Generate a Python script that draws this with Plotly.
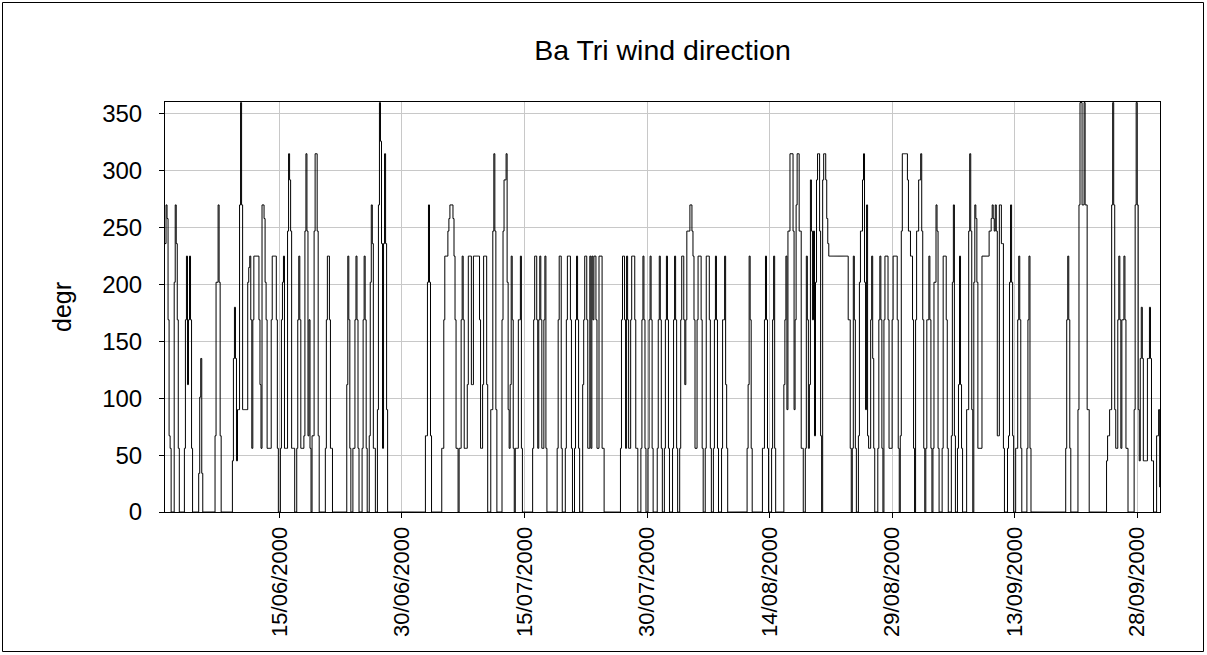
import plotly.graph_objects as go
import pandas as pd

# 3-hourly wind direction (degrees), one row of 8 readings per day
jun_dir = [
    [236, 270, 258, 169, 67, 56, 0, 0],
    [0, 202, 270, 236, 169, 56, 0, 0],
    [0, 0, 0, 56, 169, 225, 112, 169],
    [225, 169, 56, 0, 0, 0, 0, 0],
    [0, 34, 101, 135, 34, 0, 0, 0],
    [0, 0, 0, 0, 0, 0, 0, 0],
    [0, 67, 202, 202, 270, 202, 67, 0],
    [0, 0, 0, 0, 0, 0, 0, 0],
    [0, 0, 45, 135, 180, 135, 45, 90],
    [90, 270, 360, 270, 90, 90, 90, 90],
    [90, 202, 215, 225, 169, 56, 169, 225],
    [225, 225, 225, 225, 169, 112, 56, 270],
    [270, 258, 202, 169, 56, 56, 56, 56],
    [169, 225, 225, 225, 225, 169, 56, 0],
    [0, 56, 169, 202, 225, 56, 56, 56],
    [247, 315, 292, 247, 56, 56, 56, 0],
    [0, 56, 169, 225, 169, 56, 56, 56],
    [67, 247, 315, 247, 67, 169, 56, 0],
    [67, 67, 247, 315, 315, 247, 67, 0],
    [0, 0, 0, 0, 0, 56, 169, 225],
    [225, 169, 56, 56, 0, 0, 0, 0],
    [0, 0, 0, 0, 0, 0, 0, 0],
    [0, 0, 112, 225, 169, 56, 0, 0],
    [56, 56, 169, 225, 169, 56, 0, 0],
    [0, 56, 169, 225, 169, 56, 0, 0],
    [67, 202, 270, 236, 56, 56, 0, 0],
    [90, 270, 360, 326, 236, 56, 236, 315],
    [236, 90, 0, 0, 0, 0, 0, 0],
    [0, 0, 0, 0, 0, 0, 0, 0],
    [0, 0, 0, 0, 0, 0, 0, 0],
]

jul_dir = [
    [0, 0, 0, 0, 0, 0, 0, 0],
    [0, 0, 0, 0, 0, 0, 0, 67],
    [67, 202, 270, 202, 67, 0, 0, 0],
    [0, 0, 0, 0, 0, 0, 0, 56],
    [56, 169, 225, 225, 225, 247, 258, 270],
    [270, 270, 258, 225, 169, 56, 56, 0],
    [56, 56, 169, 225, 169, 56, 56, 56],
    [112, 225, 225, 225, 112, 112, 225, 225],
    [225, 225, 225, 225, 169, 56, 56, 112],
    [225, 225, 225, 112, 0, 0, 0, 90],
    [90, 247, 315, 247, 90, 0, 0, 0],
    [0, 0, 169, 247, 292, 292, 315, 202],
    [90, 56, 112, 225, 169, 56, 0, 56],
    [56, 56, 169, 169, 225, 56, 0, 0],
    [0, 0, 0, 0, 0, 0, 0, 0],
    [56, 169, 225, 225, 169, 56, 169, 225],
    [169, 56, 56, 169, 225, 56, 0, 0],
    [0, 0, 0, 0, 0, 0, 0, 0],
    [56, 169, 225, 225, 56, 0, 0, 0],
    [56, 169, 225, 225, 225, 169, 56, 0],
    [0, 56, 169, 225, 169, 56, 0, 0],
    [0, 112, 169, 225, 225, 169, 56, 56],
    [225, 56, 225, 169, 225, 225, 169, 56],
    [56, 225, 225, 225, 56, 56, 0, 0],
    [0, 0, 0, 0, 0, 0, 0, 0],
    [0, 0, 0, 0, 0, 0, 56, 169],
    [225, 225, 169, 56, 225, 169, 56, 56],
    [169, 225, 225, 225, 169, 56, 56, 0],
    [0, 0, 56, 169, 225, 169, 56, 0],
    [0, 56, 169, 225, 169, 56, 0, 0],
    [0, 0, 56, 169, 225, 169, 56, 0],
]

aug_dir = [
    [0, 56, 169, 225, 169, 56, 0, 0],
    [0, 56, 169, 225, 169, 56, 0, 0],
    [56, 169, 225, 225, 169, 112, 169, 247],
    [247, 247, 270, 270, 247, 225, 169, 56],
    [56, 169, 225, 225, 225, 169, 56, 0],
    [0, 56, 225, 225, 225, 169, 56, 0],
    [0, 56, 169, 225, 169, 56, 0, 0],
    [0, 56, 169, 169, 225, 112, 56, 0],
    [0, 0, 0, 0, 0, 0, 0, 0],
    [0, 0, 0, 0, 0, 0, 0, 0],
    [0, 0, 56, 112, 225, 169, 56, 0],
    [0, 0, 0, 0, 0, 0, 0, 0],
    [0, 56, 56, 169, 225, 169, 56, 0],
    [0, 0, 56, 169, 225, 56, 0, 0],
    [0, 0, 0, 0, 0, 0, 112, 169],
    [225, 90, 247, 247, 315, 315, 315, 247],
    [90, 169, 270, 315, 315, 247, 247, 56],
    [56, 0, 0, 56, 225, 169, 56, 112],
    [292, 247, 169, 247, 67, 202, 292, 315],
    [315, 247, 67, 0, 292, 315, 315, 292],
    [258, 236, 225, 225, 225, 225, 225, 225],
    [225, 225, 225, 225, 225, 225, 225, 225],
    [225, 225, 225, 225, 225, 169, 169, 56],
    [0, 56, 225, 169, 56, 0, 0, 67],
    [202, 247, 247, 292, 315, 202, 90, 270],
    [67, 56, 56, 169, 225, 135, 56, 0],
    [0, 0, 56, 169, 225, 169, 56, 0],
    [169, 225, 225, 225, 169, 56, 56, 56],
    [169, 225, 225, 225, 225, 169, 56, 0],
    [67, 247, 315, 315, 315, 315, 315, 292],
    [247, 247, 225, 225, 169, 56, 0, 169],
]

sep_dir = [
    [247, 247, 292, 292, 315, 247, 169, 56],
    [0, 56, 169, 169, 225, 169, 56, 0],
    [56, 202, 202, 270, 247, 56, 0, 0],
    [0, 56, 225, 225, 225, 169, 56, 0],
    [0, 0, 67, 202, 270, 67, 0, 0],
    [56, 112, 225, 112, 56, 0, 0, 0],
    [0, 90, 90, 247, 315, 247, 90, 0],
    [202, 270, 258, 202, 56, 56, 56, 56],
    [225, 225, 225, 225, 225, 225, 225, 247],
    [247, 258, 270, 258, 247, 270, 247, 67],
    [67, 270, 270, 236, 236, 56, 0, 0],
    [0, 56, 67, 202, 270, 202, 67, 0],
    [0, 56, 56, 169, 225, 169, 56, 0],
    [0, 0, 0, 0, 56, 169, 225, 56],
    [0, 0, 0, 0, 0, 0, 0, 0],
    [0, 0, 0, 0, 0, 0, 0, 0],
    [0, 0, 0, 0, 0, 0, 0, 0],
    [0, 0, 0, 0, 0, 0, 0, 0],
    [0, 0, 56, 169, 225, 169, 56, 0],
    [0, 0, 0, 0, 0, 0, 90, 270],
    [360, 360, 270, 270, 360, 270, 270, 90],
    [90, 0, 0, 0, 0, 0, 0, 0],
    [0, 0, 0, 0, 0, 0, 0, 0],
    [0, 0, 45, 67, 67, 90, 90, 270],
    [360, 270, 90, 56, 56, 169, 225, 169],
    [56, 169, 169, 225, 169, 56, 56, 0],
    [0, 0, 0, 0, 0, 90, 270, 360],
    [270, 90, 45, 135, 180, 135, 45, 45],
    [45, 45, 135, 135, 180, 135, 45, 45],
    [0, 0, 0, 67, 67, 90, 22, 22],
]

tick_dates = ["2000-06-15", "2000-06-30", "2000-07-15", "2000-07-30",
              "2000-08-14", "2000-08-29", "2000-09-13", "2000-09-28"]
tick_labels = ["15/06/2000", "30/06/2000", "15/07/2000", "30/07/2000",
               "14/08/2000", "29/08/2000", "13/09/2000", "28/09/2000"]
y_ticks = [0, 50, 100, 150, 200, 250, 300, 350]

values = [v for month in (jun_dir, jul_dir, aug_dir, sep_dir) for day in month for v in day]
times = pd.date_range("2000-06-01 00:00", periods=len(values), freq="3h")

FONT = "Liberation Sans, Arial, sans-serif"

fig = go.Figure()
fig.add_trace(go.Scatter(
    x=times, y=values, mode="lines",
    line=dict(color="black", width=1, shape="hv"),
    showlegend=False, hoverinfo="x+y",
))

fig.update_layout(
    width=1207, height=655,
    margin=dict(l=165, r=47, t=102, b=143),
    paper_bgcolor="white", plot_bgcolor="white",
    font=dict(family=FONT, color="black"),
    title=dict(text="Ba Tri wind direction", x=0.5, xref="paper", xanchor="center",
               y=1 - 50 / 655, yref="container", yanchor="middle",
               font=dict(size=28.5, family=FONT, color="black")),
    xaxis=dict(
        type="date", range=["2000-06-01 00:00", "2000-09-30 19:00"],
        tickmode="array", tickvals=tick_dates, ticktext=tick_labels,
        tickangle=-90, ticks="outside", ticklen=5, tickcolor="black",
        tickfont=dict(size=22, family=FONT, color="black"),
        showgrid=True, gridcolor="#c8c8c8", gridwidth=1,
        showline=True, linecolor="black", linewidth=1, mirror=True,
        zeroline=False,
    ),
    yaxis=dict(
        range=[0, 360.5],
        tickmode="array", tickvals=y_ticks,
        ticks="outside", ticklen=5, tickcolor="black",
        tickfont=dict(size=24, family=FONT, color="black"),
        ticklabelstandoff=12,
        showgrid=True, gridcolor="#c8c8c8", gridwidth=1,
        showline=True, linecolor="black", linewidth=1, mirror=True,
        zeroline=False,
    ),
    annotations=[dict(
        text="degr", xref="paper", yref="paper",
        x=(62 - 165) / 995, y=0.5, xanchor="center", yanchor="middle",
        textangle=-90, showarrow=False,
        font=dict(size=25, family=FONT, color="black"),
    )],
    shapes=[dict(
        type="rect", xref="paper", yref="paper",
        x0=(2.5 - 165) / 995, x1=(1203.5 - 165) / 995,
        y0=(512 - 651.5) / 410, y1=(512 - 2.5) / 410,
        line=dict(color="black", width=1), fillcolor="rgba(0,0,0,0)",
        layer="below",
    )],
)

fig.write_html("out.html",
               config={"displayModeBar": False},
               post_script="document.body.style.margin='0px';document.body.style.overflow='hidden';")
